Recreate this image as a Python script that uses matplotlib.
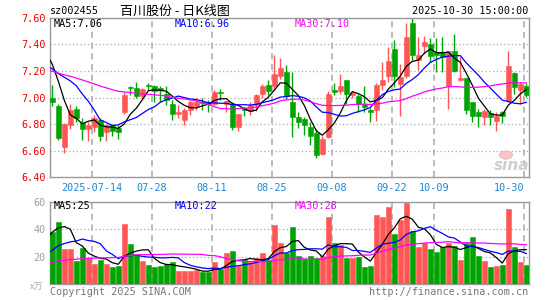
import matplotlib
matplotlib.use("Agg")
import matplotlib.pyplot as plt
import numpy as np
from matplotlib.patches import Ellipse

# ---------------- data ----------------
opens = [7.00, 6.94, 6.63, 6.79, 6.915, 6.81, 6.76, 6.78, 6.83, 6.74,
         6.79, 6.77, 6.89, 7.08, 7.075, 7.015, 7.09, 7.09, 7.07, 7.025,
         6.95, 6.88, 6.83, 6.91, 6.94, 6.97, 6.965, 6.95, 7.04, 6.95,
         6.95, 6.78, 6.915, 6.90, 6.945, 7.03, 7.095, 7.09, 7.16, 7.195,
         6.97, 6.8575, 6.84, 6.78, 6.73, 6.575, 6.70, 7.055, 7.05, 7.13,
         7.02, 7.0125, 6.95, 6.91, 6.91, 7.095, 7.16, 7.365, 7.105, 7.16,
         7.565, 7.2825, 7.39, 7.40, 7.34, 7.34, 7.09, 7.35, 7.1325, 7.145,
         6.965, 6.89, 6.8575, 6.8875, 6.825, 6.89, 6.975, 7.1825, 7.0575, 7.09]
highs = [7.095, 6.95, 6.81, 6.95, 6.94, 6.85, 6.815, 6.87, 6.85, 6.805,
         6.80, 6.79, 7.04, 7.09, 7.12, 7.07, 7.11, 7.095, 7.09, 7.09,
         6.98, 6.945, 6.92, 6.98, 6.995, 7.00, 6.98, 7.06, 7.065, 6.975,
         6.97, 6.88, 6.93, 6.97, 7.025, 7.105, 7.13, 7.32, 7.30, 7.245,
         7.19, 6.895, 6.8575, 6.82, 6.76, 6.71, 7.05, 7.1075, 7.175, 7.13,
         7.05, 7.03, 7.09, 6.92, 7.1075, 7.27, 7.38, 7.43, 7.25, 7.56,
         7.60, 7.4575, 7.465, 7.445, 7.445, 7.4575, 7.35, 7.4825, 7.3075, 7.15,
         6.965, 6.915, 6.915, 6.9075, 6.89, 6.90, 7.35, 7.195, 7.12, 7.1075]
lows = [6.94, 6.68, 6.58, 6.76, 6.82, 6.68, 6.67, 6.74, 6.67, 6.67,
        6.71, 6.69, 6.875, 7.02, 7.00, 7.00, 7.06, 6.965, 6.965, 6.945,
        6.83, 6.845, 6.79, 6.87, 6.905, 6.905, 6.89, 6.945, 6.98, 6.89,
        6.755, 6.75, 6.86, 6.87, 6.90, 6.995, 7.02, 7.055, 7.14, 6.99,
        6.70, 6.77, 6.72, 6.645, 6.545, 6.57, 6.695, 7.02, 7.03, 6.95,
        7.00, 6.89, 6.89, 6.82, 6.825, 7.06, 7.12, 7.08, 6.86, 7.15,
        7.28, 7.2075, 7.325, 7.27, 7.19, 7.195, 6.915, 7.195, 7.125, 6.875,
        6.82, 6.775, 6.79, 6.795, 6.75, 6.8075, 6.965, 7.025, 6.95, 7.0075]
closes = [6.965, 6.695, 6.80, 6.91, 6.85, 6.76, 6.79, 6.85, 6.71, 6.79,
          6.75, 6.74, 7.02, 7.075, 7.015, 7.065, 7.085, 7.05, 7.06, 6.98,
          6.88, 6.885, 6.905, 6.97, 6.97, 6.96, 6.95, 7.04, 7.035, 6.975,
          6.78, 6.875, 6.91, 6.945, 7.02, 7.09, 7.05, 7.175, 7.22, 7.01,
          6.8575, 6.82, 6.795, 6.71, 6.57, 6.69, 7.025, 7.045, 7.09, 7.03,
          7.035, 6.95, 6.93, 6.89, 7.095, 7.13, 7.275, 7.16, 7.155, 7.455,
          7.32, 7.32, 7.42, 7.315, 7.32, 7.3075, 7.35, 7.20, 7.15, 6.9075,
          6.86, 6.865, 6.90, 6.8575, 6.86, 6.86, 7.24, 7.08, 7.10, 7.02]
volumes = [38, 45, 25.5, 25.5, 17, 26, 19, 14.5, 17.5, 14.5,
           12.6, 13.5, 43.6, 29, 21.5, 17, 14, 12.6, 13.3, 15,
           15.8, 9.5, 9.5, 9.5, 10.2, 9, 9, 15.8, 10.9, 23,
           24, 13.3, 17.5, 15.8, 19.2, 23, 17.5, 43, 30.3, 23,
           41.7, 20.6, 18.5, 20.6, 19.4, 20.3, 49, 30, 28.8, 19.2,
           19.2, 19.9, 12.6, 13.1, 50, 49, 56, 36.4, 46.5, 59,
           38.5, 27, 30.3, 25.5, 23.5, 27, 30.3, 27.9, 17.5, 30.3,
           34, 20.5, 16.7, 12.4, 13.3, 13.8, 55, 27, 16, 14]
# sessions before the first candle (not drawn), inferred from the MA lines at the left edge
prior_closes = [7.20, 7.15, 7.18, 7.22, 7.25, 7.20, 7.24, 7.27, 7.22, 7.19,
                7.15, 7.12, 7.16, 7.20, 7.18, 7.22, 7.19, 7.15, 7.17, 7.14,
                7.20, 7.05, 7.08, 7.18, 7.22, 7.38, 7.33, 7.52, 7.46, 6.98]
prior_volumes = [11, 10, 12, 9, 11, 14, 12, 10, 13, 11,
                 9, 12, 15, 10, 11, 13, 12, 10, 11, 12,
                 10, 12, 10, 13, 11, 11.5, 30, 20.5, 35, 66]
tick_index = [7, 17, 27, 37, 47, 57, 64, 79]
tick_labels = ["2025-07-14", "07-28", "08-11", "08-25", "09-08", "09-22", "10-09", "10-30"]
price_ticks = [6.40, 6.60, 6.80, 7.00, 7.20, 7.40, 7.60]
vol_ticks = [20, 40, 60]
ma_periods = [5, 10, 30]
ma_colors = ["#000000", "#0000ff", "#ff00ff"]
price_ma_text = ["MA5:7.06", "MA10:6.96", "MA30:7.10"]
vol_ma_text = ["MA5:25", "MA10:22", "MA30:28"]

# ---------------- figure ----------------
W, H = 545, 300
fig = plt.figure(figsize=(W / 100, H / 100), dpi=100)
fig.patch.set_facecolor("white")

def rect(x0, y0, x1, y1):
    return [x0 / W, 1 - y1 / H, (x1 - x0) / W, (y1 - y0) / H]

ax = fig.add_axes(rect(50, 17.9, 529, 177.3))
axv = fig.add_axes(rect(50, 201.7, 529, 284.2))

UP = "#ff5555"
DN = "#00a400"
GRID = "#a8a8a8"
FRAME = "#999999"
MONO = "DejaVu Sans Mono"
CJK = ["Noto Sans CJK SC", "DejaVu Sans"]
GRID_SHIFT = 0.38  # date grid lines sit at the left edge of the candle

o = np.array(opens); h = np.array(highs); l = np.array(lows); c = np.array(closes)
v = np.array(volumes)
n = len(c)
x = np.arange(n)
up = c >= o
cols = np.where(up, UP, DN)
grid_x = np.array(tick_index) - GRID_SHIFT

xmin, xmax = -0.383, 79.45
for a in (ax, axv):
    a.set_xlim(xmin, xmax)
    for s in a.spines.values():
        s.set_color(FRAME)
        s.set_linewidth(1.0)
    a.set_facecolor("white")
    for gx in grid_x:
        a.axvline(gx, color=GRID, lw=1.1, ls=(0, (4, 3)), zorder=0)

# price grid
ax.set_ylim(price_ticks[0], price_ticks[-1])
for p in price_ticks[1:-1]:
    ax.axhline(p, color=GRID, lw=0.9, ls=(0, (1, 2)), zorder=0)

# candles
ax.vlines(x, l, h, colors=cols, lw=1.0, zorder=2)
body_b = np.minimum(o, c)
body_h = np.maximum(np.abs(c - o), 0.008)
ax.bar(x, body_h, bottom=body_b, width=0.8, color=cols, edgecolor=cols, lw=0.4, zorder=3)

# moving averages
full_c = np.concatenate([prior_closes, c])
full_v = np.concatenate([prior_volumes, v])
xf = np.arange(len(full_c)) - len(prior_closes)

def moving(arr, k):
    out = np.full(len(arr), np.nan)
    for i in range(k - 1, len(arr)):
        out[i] = np.mean(arr[i - k + 1:i + 1])
    return out

start = len(prior_closes) - 1
for k, col in zip(ma_periods, ma_colors):
    ax.plot(xf[start:], moving(full_c, k)[start:], color=col, lw=0.9, zorder=4)
    axv.plot(xf[start:], moving(full_v, k)[start:], color=col, lw=0.9, zorder=4)

# volume
axv.set_ylim(0, 60)
for p in vol_ticks[:-1]:
    axv.axhline(p, color=GRID, lw=0.9, ls=(0, (1, 2)), zorder=0)
axv.bar(x, v, width=0.8, color=cols, edgecolor=cols, lw=0.4, zorder=3)

# ticks
ax.set_yticks(price_ticks)
ax.set_yticklabels([f"{p:.2f}" for p in price_ticks], family=MONO, fontsize=7.3, color="#ee0000")
ax.tick_params(axis="y", length=0, pad=3.2)
ax.set_xticks(grid_x)
ax.set_xticklabels(tick_labels, family=MONO, fontsize=7.3, color="#1e88d0")
ax.tick_params(axis="x", length=0, pad=3.8)
ax.get_xticklabels()[-1].set_horizontalalignment("right")

axv.set_yticks(vol_ticks)
axv.set_yticklabels([str(t) for t in vol_ticks], family=MONO, fontsize=7.3, color="#a0a0a0")
axv.tick_params(axis="y", length=0, pad=3.2)
axv.set_xticks([])

# texts
def ftext(px, py, s, **kw):
    fig.text(px / W, 1 - py / H, s, va="center", **kw)

ftext(50, 11.5, "sz002455", family=MONO, fontsize=7.3, color="#000000")
ftext(175, 11, "百川股份 - 日K线图", family=CJK, fontsize=9.4, color="#000000", ha="center")
ftext(528, 11.5, "2025-10-30 15:00:00", family=MONO, fontsize=7.3, color="#000000", ha="right")

for s, col, px in zip(price_ma_text, ma_colors, [54, 175, 295]):
    ftext(px, 24, s, family=MONO, fontsize=7.3, color=col)
for s, col, px in zip(vol_ma_text, ma_colors, [54, 175, 295]):
    ftext(px, 206, s, family=MONO, fontsize=7.3, color=col)

ftext(43, 287.5, "x万", family=CJK, fontsize=6.5, color="#a8a8a8", ha="right")
ftext(50, 292, "Copyright 2025 SINA.COM", family=MONO, fontsize=7.3, color="#777777")
ftext(528, 292, "http://finance.sina.com.cn", family=MONO, fontsize=7.3, color="#777777", ha="right")

# sina watermark
fig.add_artist(Ellipse((506 / W, 1 - 155 / H), 13 / W, 8 / H, transform=fig.transFigure,
                       facecolor="#f6c8c8", edgecolor="#efb0b0", lw=0.6, zorder=5))
ftext(512, 165, "sina", family="DejaVu Sans", fontsize=11, fontstyle="italic",
      fontweight="bold", color="#cfcfcf", ha="center", zorder=5)

fig.savefig("out.png", dpi=100)
